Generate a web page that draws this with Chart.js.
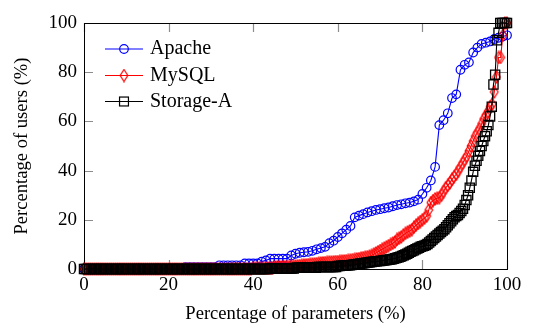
<!DOCTYPE html>
<html><head><meta charset="utf-8">
<script src="https://cdn.jsdelivr.net/npm/chart.js@4/dist/chart.umd.min.js"></script>
<style>html,body{margin:0;padding:0;background:#fff;}#wrap{width:551px;height:329px;position:relative}</style>
</head><body><div id="wrap"><canvas id="c" width="551" height="329"></canvas></div>
<script>
const seriesNames = ['Apache', 'MySQL', 'Storage-A'];
const xTicks = [0, 20, 40, 60, 80, 100];
const yTicks = [0, 20, 40, 60, 80, 100];
const xTitle = 'Percentage of parameters (%)';
const yTitle = 'Percentage of users (%)';

// y values (percentage of users) per parameter, parameters evenly ranked from 0% to 100%
const apache = [
  0,0,0,0,0,0,0,0,0,0, 0,0,0,0,0,0,0,0,0,0, 0,0,0,0,
  0.8,0.8,0.8,0.8,0.8,0.8,0.8,0.8,
  1.5,1.5,1.5,1.5,1.5,1.5,
  2.3,2.3,2.3,2.3,
  3,3.5,
  4.2,4.2,4.2,4.2,4.2,
  5.5,6.2,6.6,6.8,7,7.4,8,8.5,9,
  10.5,11.5,13,14.5,16,17.5,
  21,21.7,22.3,23,23.5,24,24.3,24.7,25,25.5,26,26.3,26.7,27,27.5,28.2,
  30.5,33,36,41.5,58.5,60.5,63.3,69.5,71,81,83,84,88,90,91.5,92,92.5,93.5,94,94.5,95
];
const mysql = [
  0,0,0,0,0,0,0,0,0,0, 0,0,0,0,0,0,0,0,0,0, 0,0,0,0,0,0,0,0,0,0, 0,0,0,0,0,0,0,0,0,0,
  0,0,0,0,0,0,0,0,0,0, 0,0,0,0,0,0,0,0,0,0, 0,0,0,0,0,0,0,0,0,0, 0,0,0,0,0,0,0,0,0,0,
  0.3,0.3,0.3,0.3,0.3,0.3,0.3,0.3,0.3,0.3,
  0.7,0.7,0.8,0.8,0.9,0.9,1,1,1.1,1.1,
  1.2,1.3,1.4,1.5,1.6,1.7,1.8,1.9,2,2.1,
  2.2,2.3,2.4,2.5,2.6,2.7,2.8,2.8,2.9,3,
  3,3.1,3.2,3.3,3.4,3.5,3.6,3.8,3.9,4.1,
  4.2,4.4,4.6,4.8,5,5.2,5.5,6,6.5,7,
  7.5,8,8.5,9,9.5,10,10.5,11,12,12.5,
  13,13.8,14.5,15,15.5,16,17,17.8,18.5,19.3,
  20,20.7,21.5,24,27,27.8,28.5,28.8,29,30,
  31.5,33,34,35,36.5,37.5,38.5,40,41.5,43,
  44.5,46,48,50,52,54,55.5,57,59,61,
  62.5,64,66,67,72,78,86,86,95,100,100
];
const storageA = [
  0,0,0,0,0,0,0,0,0,0, 0,0,0,0,0,0,0,0,0,0, 0,0,0,0,0,0,0,0,0,0, 0,0,0,0,0,0,0,0,0,0,
  0,0,0,0,0,0,0,0,0,0, 0,0,0,0,0,0,0,0,0,0, 0,0,0,0,0,0,0,0,0,0, 0,0,0,0,0,0,0,0,0,0,
  0,0,0,0,0,0,0,0,0,0, 0,0,0,0,0,0,0,0,0,0, 0,0,0,0,0,0,0,0,0,0,
  0.2,0.2,0.2,0.2,0.2,0.2,0.2,0.2,0.2,0.2,0.2,0.2,0.2,0.2,0.2,
  0.5,0.5,0.5,0.5,0.5,0.5,0.5,0.5,0.5,0.5,0.5,0.5,0.5,
  0.8,0.8,0.8,0.8,0.8,0.8,0.8,0.8,0.8,0.8,0.8,0.8,
  1.2,1.2,1.3,1.3,1.4,1.4,1.5,1.5,1.6,1.7,1.8,1.9,2.0,
  2.1,2.2,2.3,2.4,2.5,2.6,2.7,2.8,2.9,3.0,3.1,3.2,
  3.3,3.4,3.5,3.6,3.7,3.8,3.9,4.0,4.2,4.4,4.6,4.8,5.0,
  5.3,5.6,5.9,6.2,6.6,7.0,7.3,7.6,8.0,8.3,8.6,9.0,
  9.2,9.5,9.8,10.2,10.8,11.4,12,12.6,13.2,13.8,14.4,15,15.6,
  16.2,17,17.8,18.6,19.4,20.2,21,21.5,22,22.8,23.6,24.5,
  26,28,30,33,36,39.5,42,44,46,48,50,52,54,
  56,58.5,62,66,75,79,93,96,100,100,100,100,100
];

const colors = ['rgb(0,0,255)', 'rgb(255,0,0)', 'rgb(0,0,0)'];
const FONT = '"Liberation Serif", "Times New Roman", serif';

function ranked(arr) {
  return arr.map((v, i) => ({ x: i * 100 / (arr.length - 1), y: v }));
}

function diamondCanvas(color) {
  const c = document.createElement('canvas');
  c.width = 10; c.height = 14;
  const g = c.getContext('2d');
  g.strokeStyle = color; g.lineWidth = 1.2;
  g.beginPath();
  g.moveTo(5, 1); g.lineTo(8.8, 7); g.lineTo(5, 13); g.lineTo(1.2, 7); g.closePath();
  g.stroke();
  return c;
}
const diamond = diamondCanvas(colors[1]);

const frameAndLegend = {
  id: 'frameAndLegend',
  beforeDatasetsDraw(chart) {
    const { ctx, chartArea: a, scales: { x, y } } = chart;
    ctx.save();
    ctx.strokeStyle = '#8c8c8c';
    ctx.lineWidth = 1.2;
    const L = 9;
    xTicks.forEach(v => {
      const px = Math.round(x.getPixelForValue(v)) + 0.5;
      ctx.beginPath();
      ctx.moveTo(px, a.bottom); ctx.lineTo(px, a.bottom - L);
      ctx.moveTo(px, a.top); ctx.lineTo(px, a.top + L);
      ctx.stroke();
    });
    yTicks.forEach(v => {
      const py = Math.round(y.getPixelForValue(v)) + 0.5;
      ctx.beginPath();
      ctx.moveTo(a.left, py); ctx.lineTo(a.left + L, py);
      ctx.moveTo(a.right, py); ctx.lineTo(a.right - L, py);
      ctx.stroke();
    });
    ctx.strokeStyle = '#000';
    ctx.lineWidth = 1;
    ctx.strokeRect(Math.round(a.left) + 0.5, Math.round(a.top) + 0.5,
      Math.round(a.right - a.left), Math.round(a.bottom - a.top));
    ctx.restore();
  },
  afterDraw(chart) {
    const ctx = chart.ctx;
    ctx.save();
    const rows = [49, 75.5, 101.5];
    const x0 = 105, x1 = 143, xm = 124, xt = 150;
    rows.forEach((ry, i) => {
      ctx.strokeStyle = colors[i];
      ctx.lineWidth = 1;
      ctx.beginPath(); ctx.moveTo(x0, ry); ctx.lineTo(x1, ry); ctx.stroke();
      ctx.lineWidth = 1.2;
      if (i === 0) {
        ctx.beginPath(); ctx.arc(xm, ry, 4.3, 0, Math.PI * 2); ctx.stroke();
      } else if (i === 1) {
        ctx.drawImage(diamond, xm - diamond.width / 2, ry - diamond.height / 2);
      } else {
        const s = 6.3 * Math.SQRT1_2;
        ctx.strokeRect(xm - s, ry - s, 2 * s, 2 * s);
      }
      ctx.fillStyle = '#000';
      ctx.font = '20px ' + FONT;
      ctx.textBaseline = 'middle';
      ctx.textAlign = 'left';
      ctx.fillText(seriesNames[i], xt, ry);
    });
    ctx.restore();
  }
};

new Chart(document.getElementById('c'), {
  type: 'line',
  data: {
    datasets: [
      { label: seriesNames[0], data: ranked(apache), borderColor: colors[0], backgroundColor: 'rgba(0,0,0,0)',
        borderWidth: 1.1, pointStyle: 'circle', pointRadius: 4.3, pointBorderWidth: 1.2, pointBorderColor: colors[0],
        pointBackgroundColor: 'rgba(0,0,0,0)', order: 2, clip: false, tension: 0 },
      { label: seriesNames[1], data: ranked(mysql), borderColor: colors[1], backgroundColor: 'rgba(0,0,0,0)',
        borderWidth: 1.1, pointStyle: diamond, pointRadius: 4, order: 1, clip: false, tension: 0 },
      { label: seriesNames[2], data: ranked(storageA), borderColor: colors[2], backgroundColor: 'rgba(0,0,0,0)',
        borderWidth: 1.1, pointStyle: 'rect', pointRadius: 6.5, pointBorderWidth: 1.3, pointBorderColor: colors[2],
        pointBackgroundColor: 'rgba(0,0,0,0)', order: 0, clip: false, tension: 0 }
    ]
  },
  options: {
    responsive: false,
    animation: false,
    devicePixelRatio: 1,
    layout: { padding: { top: 23, right: 44, bottom: 0, left: 0 } },
    plugins: { legend: { display: false }, tooltip: { enabled: false } },
    scales: {
      x: {
        type: 'linear', min: 0, max: 100,
        afterBuildTicks: s => { s.ticks = xTicks.map(v => ({ value: v })); },
        afterFit: s => { s.height = 60; },
        grid: { display: false, drawTicks: false },
        border: { display: false },
        ticks: { color: '#000', font: { family: FONT, size: 19 }, padding: 5, maxRotation: 0, autoSkip: false },
        title: { display: true, text: xTitle, color: '#000', font: { family: FONT, size: 18.6 }, padding: { top: 0, bottom: 4 } }
      },
      y: {
        type: 'linear', min: 0, max: 100,
        afterBuildTicks: s => { s.ticks = yTicks.map(v => ({ value: v })); },
        afterFit: s => { s.width = 84; },
        grid: { display: false, drawTicks: false },
        border: { display: false },
        ticks: { color: '#000', font: { family: FONT, size: 19 }, padding: 7, autoSkip: false },
        title: { display: true, text: yTitle, color: '#000', font: { family: FONT, size: 18.6 }, padding: { top: 11, bottom: 0 } }
      }
    }
  },
  plugins: [frameAndLegend]
});
</script>
</body></html>
